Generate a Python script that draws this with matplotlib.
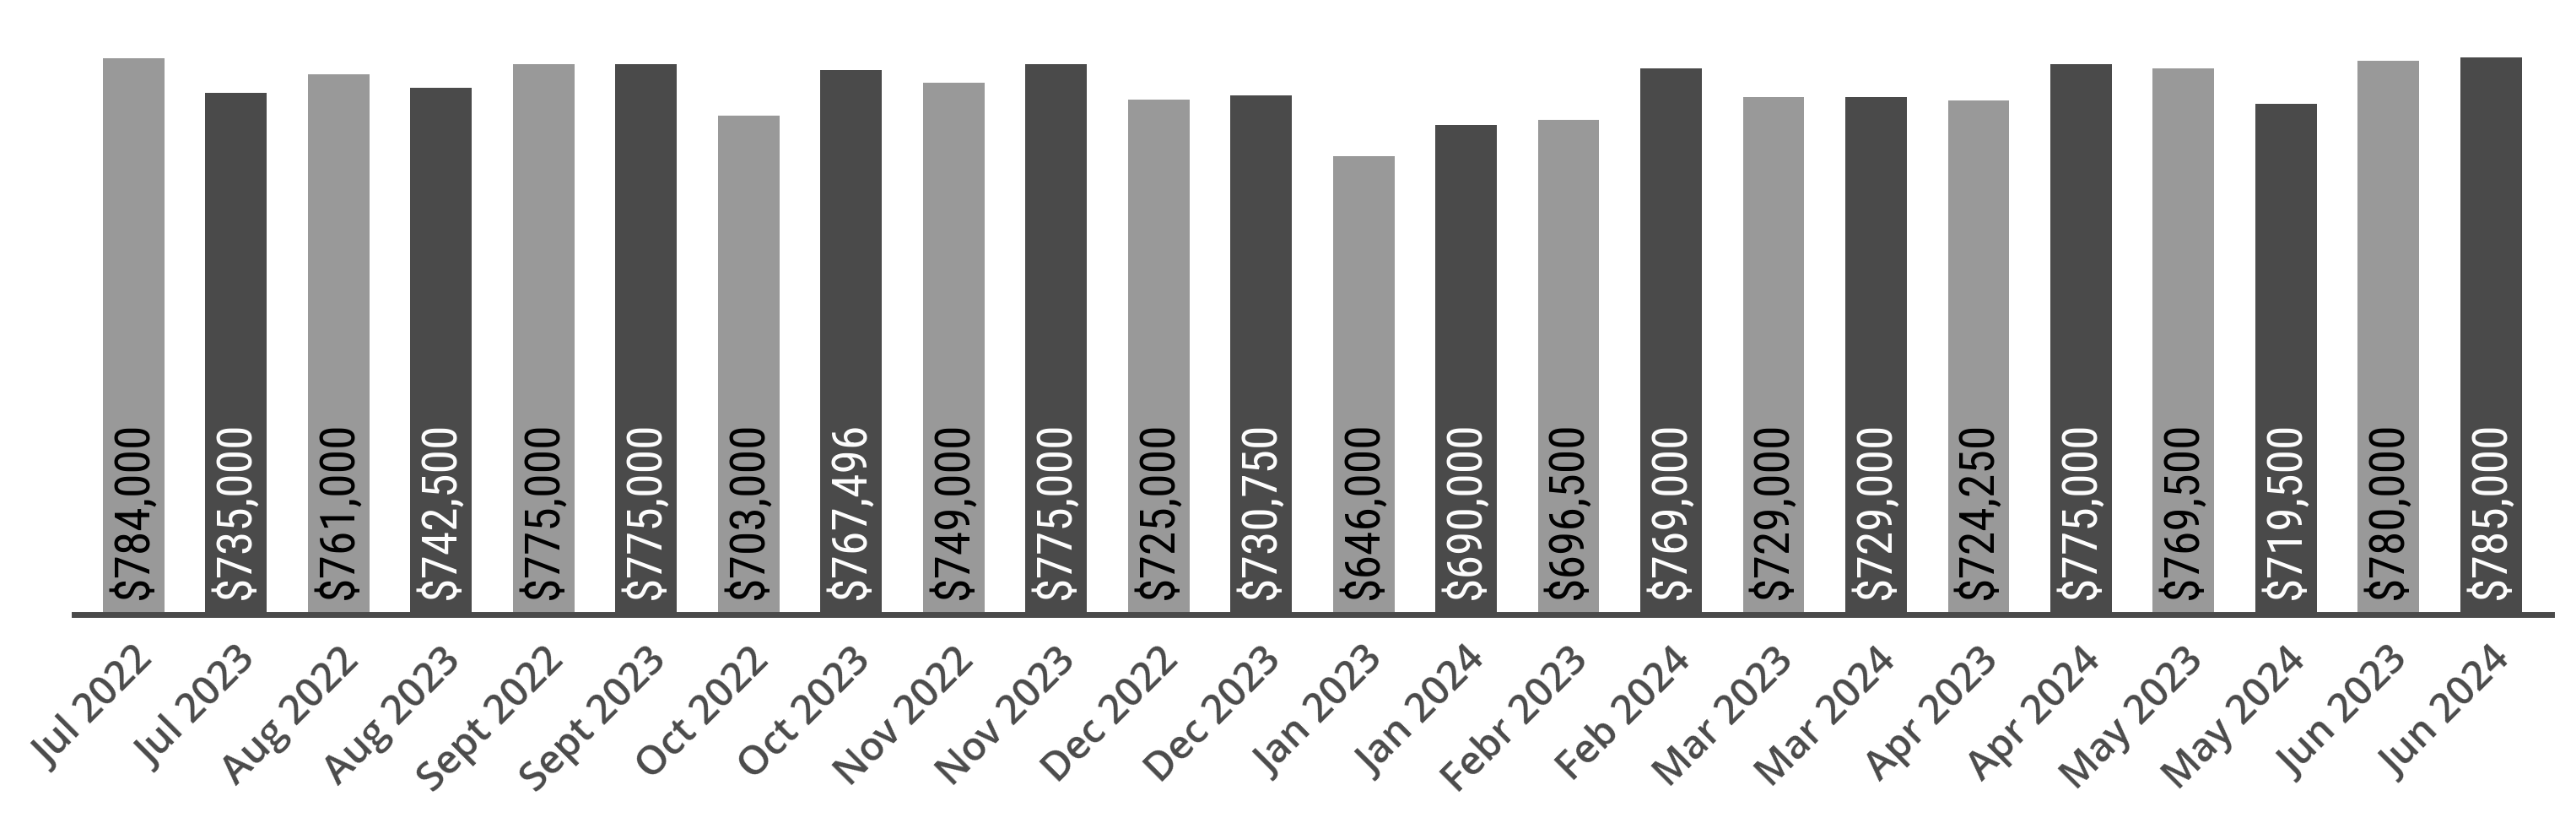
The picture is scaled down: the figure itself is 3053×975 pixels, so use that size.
import matplotlib
matplotlib.use("Agg")
import matplotlib.pyplot as plt

# monthly values, paired by year
months = ["Jul 2022", "Jul 2023", "Aug 2022", "Aug 2023", "Sept 2022", "Sept 2023",
          "Oct 2022", "Oct 2023", "Nov 2022", "Nov 2023", "Dec 2022", "Dec 2023",
          "Jan 2023", "Jan 2024", "Febr 2023", "Feb 2024", "Mar 2023", "Mar 2024",
          "Apr 2023", "Apr 2024", "May 2023", "May 2024", "Jun 2023", "Jun 2024"]
prices = [784000, 735000, 761000, 742500, 775000, 775000,
          703000, 767496, 749000, 775000, 725000, 730750,
          646000, 690000, 696500, 769000, 729000, 729000,
          724250, 775000, 769500, 719500, 780000, 785000]

light = "#999999"
dark = "#4a4a4a"

plt.rcParams['font.family'] = ['Open Sans', 'DejaVu Sans']

fig = plt.figure(figsize=(30.53, 9.75), dpi=100)
ax = fig.add_axes([0.0288, 0.2533, 0.9617, 0.716])

x = list(range(len(prices)))
colors = [light if i % 2 == 0 else dark for i in x]
ax.bar(x, prices, width=0.6, color=colors)

for i, v in enumerate(prices):
    ax.text(i, 21000, f"${v:,}", rotation=90, ha="center", va="bottom",
            fontsize=41.5, family=['Roboto Condensed', 'Roboto'],
            color="black" if i % 2 == 0 else "white")

ax.set_xlim(-0.58, len(prices) - 1 + 0.59)
ax.set_ylim(0, 830000)

for s in ["top", "right", "left"]:
    ax.spines[s].set_visible(False)
ax.spines["bottom"].set_color(dark)
ax.spines["bottom"].set_linewidth(5)
ax.set_yticks([])
ax.set_xticks(x)
ax.set_xticklabels(months, rotation=45, ha="right", rotation_mode="anchor",
                   fontsize=34, color=dark, fontweight="semibold",
                   fontstretch="normal")
ax.tick_params(axis="x", length=0, pad=22)

fig.savefig("out.png", dpi=100)
